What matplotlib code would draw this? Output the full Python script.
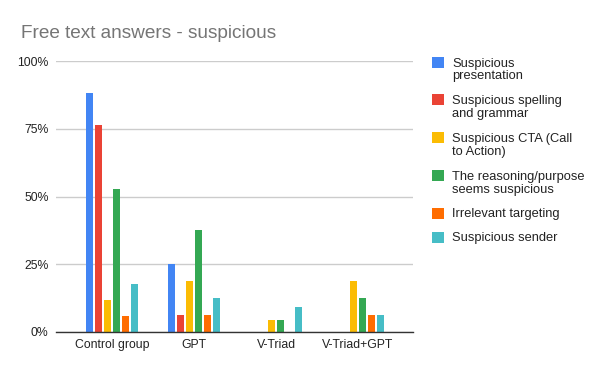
import matplotlib
matplotlib.use("Agg")
import matplotlib.pyplot as plt
from matplotlib.patches import Rectangle
import numpy as np

plt.rcParams['font.family'] = ['Liberation Sans', 'DejaVu Sans']

categories = ["Control group", "GPT", "V-Triad", "V-Triad+GPT"]
series_names = ["Suspicious\npresentation", "Suspicious spelling\nand grammar",
                "Suspicious CTA (Call\nto Action)", "The reasoning/purpose\nseems suspicious",
                "Irrelevant targeting", "Suspicious sender"]
presentation = [88.2, 25.0, 0.0, 0.0]
spelling = [76.5, 6.25, 0.0, 0.0]
cta = [11.8, 18.75, 4.5, 18.75]
reasoning = [52.9, 37.5, 4.5, 12.5]
targeting = [5.9, 6.25, 0.0, 6.25]
sender = [17.6, 12.5, 9.1, 6.25]
yticks = [0, 25, 50, 75, 100]
ytick_labels = ["0%", "25%", "50%", "75%", "100%"]

colors = ["#4285F4", "#EA4335", "#FBBC04", "#34A853", "#FF6D01", "#46BDC6"]
all_series = [presentation, spelling, cta, reasoning, targeting, sender]

W, H = 600, 371
fig = plt.figure(figsize=(6, 3.71), dpi=100)
ax = fig.add_axes([56 / W, 1 - 332 / H, 357 / W, (332 - 61.3) / H])

x = np.arange(len(categories))
step = 9 / 82
width = 6.8 / 82
for i, (vals, c) in enumerate(zip(all_series, colors)):
    offs = (i - 2.5) * step
    ax.bar(x + offs, vals, width, color=c, zorder=3, linewidth=0)

ax.set_xlim(-0.683, 3.67)
ax.set_ylim(0, 100)
ax.set_yticks(yticks)
ax.set_yticklabels(ytick_labels)
ax.set_xticks(x)
ax.set_xticklabels(categories)
ax.grid(axis='y', color='#cccccc', linewidth=1, zorder=0)
for s in ['top', 'right', 'left']:
    ax.spines[s].set_visible(False)
ax.spines['bottom'].set_color('#333333')
ax.spines['bottom'].set_linewidth(1)
ax.spines['bottom'].set_zorder(4)
ax.tick_params(axis='both', length=0, labelsize=8.8, colors='#222222')
ax.tick_params(axis='y', pad=5.3)
ax.tick_params(axis='x', pad=5)

fig.text(21 / W, 1 - 38.3 / H, "Free text answers - suspicious", fontsize=13.7,
         color='#757575', va='baseline', ha='left')

# legend drawn manually: square aligned with first text line
top = 56.7
for name, c in zip(series_names, colors):
    lines = name.split("\n")
    fig.patches.append(Rectangle((432 / W, 1 - (top + 11) / H), 12 / W, 11 / H,
                                 transform=fig.transFigure, facecolor=c,
                                 edgecolor='none'))
    for k, ln in enumerate(lines):
        fig.text(452 / W, 1 - (top + 10 + k * 12.7) / H, ln, fontsize=9.3,
                 color='#222222', va='baseline', ha='left')
    top += 24 + 12.7 * (len(lines) - 1) + (1 if len(lines) > 1 else 0)

fig.savefig("out.png", dpi=100)
